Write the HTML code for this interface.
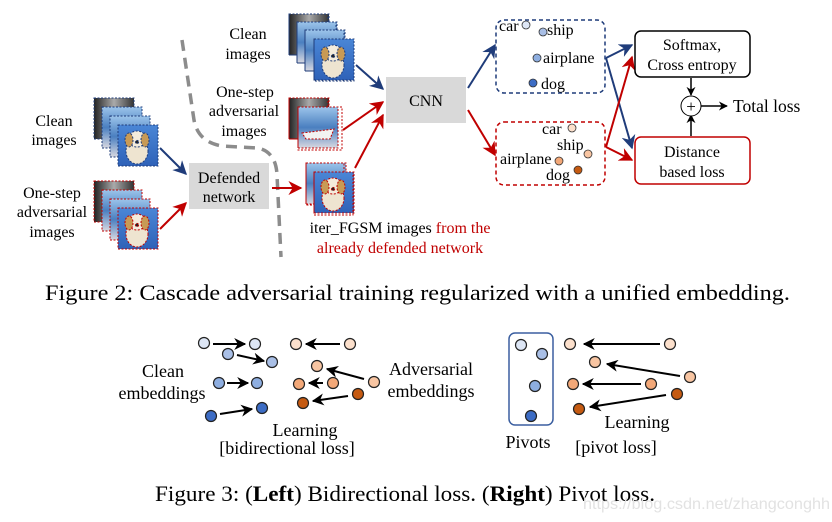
<!DOCTYPE html>
<html><head><meta charset="utf-8"><style>
html,body{margin:0;padding:0;background:#fff;}
svg{display:block;font-family:"Liberation Serif",serif;}
</style></head><body>
<svg width="832" height="522" viewBox="0 0 832 522" xmlns="http://www.w3.org/2000/svg">
<defs>
<linearGradient id="sky" x1="0" y1="0" x2="0" y2="1"><stop offset="0" stop-color="#4a86d6"/><stop offset="1" stop-color="#2f62b8"/></linearGradient>
<linearGradient id="dark" x1="0" y1="0" x2="1" y2="0"><stop offset="0" stop-color="#222"/><stop offset="0.5" stop-color="#aaa"/><stop offset="1" stop-color="#333"/></linearGradient>
<linearGradient id="sea" x1="0" y1="0" x2="0" y2="1"><stop offset="0" stop-color="#9cc4ea"/><stop offset="0.5" stop-color="#4a7fc0"/><stop offset="1" stop-color="#d8d8e0"/></linearGradient>
<g id="dog"><rect x="0" y="0" width="40" height="41" fill="url(#sky)"/><ellipse cx="19" cy="26" rx="11" ry="13" fill="#eee4d0"/><ellipse cx="19" cy="14" rx="9" ry="8" fill="#f4ecdc"/><ellipse cx="11" cy="15" rx="4" ry="7" fill="#c89a55"/><ellipse cx="27" cy="15" rx="4" ry="7" fill="#c89a55"/><circle cx="19" cy="17" r="1.6" fill="#222"/></g>
<g id="ship"><rect x="0" y="0" width="40" height="41" fill="url(#sea)"/><path d="M4 26 L36 22 L32 32 L8 32Z" fill="#f2f2f2"/></g>
<g id="car"><rect x="0" y="0" width="40" height="41" fill="url(#dark)"/></g>
<g id="sky2"><rect x="0" y="0" width="40" height="41" fill="url(#sea)"/></g>
<marker id="ab" viewBox="0 0 10 10" refX="9" refY="5" markerWidth="7" markerHeight="7" orient="auto"><path d="M0 0 L10 5 L0 10 L3 5Z" fill="#1f3c7a"/></marker>
<marker id="ar" viewBox="0 0 10 10" refX="9" refY="5" markerWidth="7" markerHeight="7" orient="auto"><path d="M0 0 L10 5 L0 10 L3 5Z" fill="#c00000"/></marker>
<marker id="ak" viewBox="0 0 10 10" refX="9" refY="5" markerWidth="6" markerHeight="6" orient="auto"><path d="M0 0 L10 5 L0 10 L3 5Z" fill="#000"/></marker>
</defs>

<g stroke="#1f3c7a" stroke-width="1" stroke-dasharray="2,1.5">
<use href="#car" x="94" y="98"/><rect x="94" y="98" width="40" height="41" fill="none"/>
<use href="#sky2" x="102" y="107"/><rect x="102" y="107" width="40" height="41" fill="none"/>
<use href="#sky2" x="110" y="116"/><rect x="110" y="116" width="40" height="41" fill="none"/>
<use href="#dog" x="118" y="125"/><rect x="118" y="125" width="40" height="41" fill="none"/>
</g>
<g stroke="#c00000" stroke-width="1" stroke-dasharray="2,1.5">
<use href="#car" x="94" y="181"/><rect x="94" y="181" width="40" height="41" fill="none"/>
<use href="#sky2" x="102" y="190"/><rect x="102" y="190" width="40" height="41" fill="none"/>
<use href="#sky2" x="110" y="199"/><rect x="110" y="199" width="40" height="41" fill="none"/>
<use href="#dog" x="118" y="208"/><rect x="118" y="208" width="40" height="41" fill="none"/>
</g>
<g font-size="16" text-anchor="middle">
<text x="54" y="126">Clean</text><text x="54" y="145">images</text>
<text x="52" y="198">One-step</text><text x="52" y="217">adversarial</text><text x="52" y="237">images</text>
</g>
<line x1="160" y1="148" x2="186" y2="174" stroke="#1f3c7a" stroke-width="2" marker-end="url(#ab)"/>
<line x1="160" y1="229" x2="186" y2="203" stroke="#c00000" stroke-width="2" marker-end="url(#ar)"/>
<rect x="189" y="163" width="80" height="46" fill="#d9d9d9"/>
<text x="229" y="183" font-size="16" text-anchor="middle">Defended</text>
<text x="229" y="202" font-size="16" text-anchor="middle">network</text>

<path d="M182 40 L194 120 Q198 142 222 146 L258 148 Q276 152 277 175 L281 257" fill="none" stroke="#8c8c8c" stroke-width="3.5" stroke-dasharray="11,7"/>
<line x1="272" y1="188" x2="301" y2="188" stroke="#c00000" stroke-width="2" marker-end="url(#ar)"/>

<g stroke="#1f3c7a" stroke-width="1" stroke-dasharray="2,1.5">
<use href="#car" x="289" y="14"/><rect x="289" y="14" width="39" height="41" fill="none"/>
<use href="#sky2" x="297" y="22"/><rect x="297" y="22" width="39" height="41" fill="none"/>
<use href="#sky2" x="305" y="30"/><rect x="305" y="30" width="39" height="41" fill="none"/>
<use href="#dog" x="314" y="39"/><rect x="314" y="39" width="40" height="42" fill="none"/>
</g>
<g stroke="#c00000" stroke-width="1" stroke-dasharray="2,1.5">
<use href="#car" x="289" y="98"/><rect x="289" y="98" width="39" height="41" fill="none"/>
<use href="#ship" x="298" y="107"/><rect x="298" y="107" width="44" height="43" fill="none"/>
<use href="#sky2" x="306" y="163"/><rect x="306" y="163" width="38" height="42" fill="none"/>
<use href="#dog" x="314" y="172"/><rect x="314" y="172" width="39" height="43" fill="none"/>
</g>
<g font-size="16" text-anchor="middle">
<text x="248" y="39">Clean</text><text x="248" y="59">images</text>
<text x="245" y="97">One-step</text><text x="244" y="116">adversarial</text><text x="244" y="136">images</text>
</g>
<text x="400" y="233" font-size="16" text-anchor="middle">iter_FGSM images <tspan fill="#c00000">from the</tspan></text>
<text x="400" y="253" font-size="16" text-anchor="middle" fill="#c00000">already defended network</text>

<line x1="356" y1="65" x2="383" y2="89" stroke="#1f3c7a" stroke-width="2" marker-end="url(#ab)"/>
<line x1="343" y1="130" x2="383" y2="102" stroke="#c00000" stroke-width="2" marker-end="url(#ar)"/>
<line x1="355" y1="168" x2="383" y2="115" stroke="#c00000" stroke-width="2" marker-end="url(#ar)"/>
<rect x="386" y="77" width="80" height="46" fill="#d9d9d9"/>
<text x="426" y="106" font-size="16" text-anchor="middle">CNN</text>
<line x1="468" y1="88" x2="495" y2="45" stroke="#1f3c7a" stroke-width="2" marker-end="url(#ab)"/>
<line x1="468" y1="110" x2="495" y2="155" stroke="#c00000" stroke-width="2" marker-end="url(#ar)"/>

<rect x="496" y="20" width="109" height="73" rx="8" fill="none" stroke="#1f3c7a" stroke-width="1.5" stroke-dasharray="4,3"/>
<rect x="496" y="122" width="109" height="63" rx="8" fill="none" stroke="#c00000" stroke-width="1.5" stroke-dasharray="4,3"/>
<g font-size="16" stroke="#333" stroke-width="0.8">
<text x="499" y="31" stroke="none">car</text><circle cx="526" cy="25" r="4" fill="#dde6f5"/>
<circle cx="543" cy="32" r="4" fill="#a9bfe6"/><text x="547" y="35" stroke="none">ship</text>
<circle cx="537" cy="58" r="4" fill="#8eaee0"/><text x="543" y="63" stroke="none">airplane</text>
<circle cx="533" cy="83" r="4" fill="#3c6cc4"/><text x="541" y="89" stroke="none">dog</text>
<text x="542" y="134" stroke="none">car</text><circle cx="572" cy="128" r="4" fill="#fce0cc"/>
<text x="557" y="150" stroke="none">ship</text><circle cx="588" cy="154" r="4" fill="#f8c5a2"/>
<text x="500" y="164" stroke="none">airplane</text><circle cx="559" cy="161" r="4" fill="#f3a878"/>
<text x="546" y="180" stroke="none">dog</text><circle cx="578" cy="170" r="4" fill="#c55a11"/>
</g>
<line x1="606" y1="58" x2="632" y2="45" stroke="#1f3c7a" stroke-width="2" marker-end="url(#ab)"/>
<line x1="606" y1="58" x2="632" y2="148" stroke="#1f3c7a" stroke-width="2" marker-end="url(#ab)"/>
<line x1="606" y1="147" x2="632" y2="57" stroke="#c00000" stroke-width="2" marker-end="url(#ar)"/>
<line x1="606" y1="147" x2="632" y2="160" stroke="#c00000" stroke-width="2" marker-end="url(#ar)"/>
<rect x="635" y="31" width="115" height="46" rx="6" fill="#fff" stroke="#000" stroke-width="1.5"/>
<text x="692" y="50" font-size="16" text-anchor="middle">Softmax,</text>
<text x="692" y="70" font-size="16" text-anchor="middle">Cross entropy</text>
<rect x="635" y="137" width="115" height="47" rx="6" fill="#fff" stroke="#c00000" stroke-width="1.5"/>
<text x="692" y="157" font-size="16" text-anchor="middle">Distance</text>
<text x="692" y="177" font-size="16" text-anchor="middle">based loss</text>
<line x1="691" y1="78" x2="691" y2="95" stroke="#000" stroke-width="1.5" marker-end="url(#ak)"/>
<line x1="691" y1="136" x2="691" y2="115" stroke="#000" stroke-width="1.5" marker-end="url(#ak)"/>
<circle cx="691" cy="106" r="10" fill="#fff" stroke="#000" stroke-width="1"/>
<text x="691" y="112" font-size="17" text-anchor="middle">+</text>
<line x1="701" y1="106" x2="727" y2="106" stroke="#000" stroke-width="1.5" marker-end="url(#ak)"/>
<text x="733" y="112" font-size="17.5">Total loss</text>

<text x="45" y="300" font-size="22" textLength="745" lengthAdjust="spacingAndGlyphs">Figure 2: Cascade adversarial training regularized with a unified embedding.</text>

<g stroke="#000" stroke-width="2">
<line x1="213" y1="344" x2="245" y2="344" marker-end="url(#ak)"/>
<line x1="237" y1="355" x2="264" y2="361" marker-end="url(#ak)"/>
<line x1="227" y1="383" x2="248" y2="383" marker-end="url(#ak)"/>
<line x1="220" y1="414" x2="252" y2="409" marker-end="url(#ak)"/>
<line x1="340" y1="344" x2="306" y2="344" marker-end="url(#ak)"/>
<line x1="364" y1="379" x2="327" y2="369" marker-end="url(#ak)"/>
<line x1="323" y1="383" x2="309" y2="383" marker-end="url(#ak)"/>
<line x1="348" y1="396" x2="313" y2="401" marker-end="url(#ak)"/>
</g>
<g stroke="#222" stroke-width="1.2">
<circle cx="204" cy="343" r="5.5" fill="#dde6f5"/><circle cx="255" cy="344" r="5.5" fill="#dde6f5"/>
<circle cx="228" cy="354" r="5.5" fill="#a9bfe6"/><circle cx="272" cy="362" r="5.5" fill="#a9bfe6"/>
<circle cx="219" cy="383" r="5.5" fill="#8eaee0"/><circle cx="257" cy="383" r="5.5" fill="#8eaee0"/>
<circle cx="211" cy="416" r="5.5" fill="#3c6cc4"/><circle cx="262" cy="408" r="5.5" fill="#3c6cc4"/>
<circle cx="296" cy="344" r="5.5" fill="#fce0cc"/><circle cx="350" cy="344" r="5.5" fill="#fce0cc"/>
<circle cx="317" cy="366" r="5.5" fill="#f8c5a2"/><circle cx="374" cy="382" r="5.5" fill="#f8c5a2"/>
<circle cx="299" cy="384" r="5.5" fill="#f3a878"/><circle cx="333" cy="383" r="5.5" fill="#f3a878"/>
<circle cx="303" cy="403" r="5.5" fill="#c55a11"/><circle cx="358" cy="394" r="5.5" fill="#c55a11"/>
</g>
<g font-size="18" text-anchor="middle">
<text x="163" y="377">Clean</text><text x="162" y="399">embeddings</text>
<text x="431" y="375">Adversarial</text><text x="431" y="397">embeddings</text>
<text x="305" y="436">Learning</text><text x="287" y="454">[bidirectional loss]</text>
<text x="528" y="448">Pivots</text><text x="637" y="428">Learning</text><text x="616" y="453">[pivot loss]</text>
</g>
<rect x="509" y="333" width="44" height="92" rx="6" fill="none" stroke="#3b5fa0" stroke-width="1.5"/>
<g stroke="#000" stroke-width="2">
<line x1="660" y1="344" x2="584" y2="344" marker-end="url(#ak)"/>
<line x1="680" y1="376" x2="607" y2="364" marker-end="url(#ak)"/>
<line x1="641" y1="384" x2="583" y2="384" marker-end="url(#ak)"/>
<line x1="666" y1="395" x2="590" y2="407" marker-end="url(#ak)"/>
</g>
<g stroke="#222" stroke-width="1.2">
<circle cx="521" cy="345" r="5.5" fill="#dde6f5"/><circle cx="542" cy="354" r="5.5" fill="#a9bfe6"/>
<circle cx="535" cy="386" r="5.5" fill="#8eaee0"/><circle cx="531" cy="416" r="5.5" fill="#3c6cc4"/>
<circle cx="570" cy="344" r="5.5" fill="#fce0cc"/><circle cx="670" cy="344" r="5.5" fill="#fce0cc"/>
<circle cx="595" cy="362" r="5.5" fill="#f8c5a2"/><circle cx="690" cy="377" r="5.5" fill="#f8c5a2"/>
<circle cx="573" cy="384" r="5.5" fill="#f3a878"/><circle cx="651" cy="384" r="5.5" fill="#f3a878"/>
<circle cx="579" cy="409" r="5.5" fill="#c55a11"/><circle cx="677" cy="394" r="5.5" fill="#c55a11"/>
</g>

<text x="155" y="501" font-size="22" textLength="500" lengthAdjust="spacingAndGlyphs">Figure 3: (<tspan font-weight="bold">Left</tspan>) Bidirectional loss. (<tspan font-weight="bold">Right</tspan>) Pivot loss.</text>
<text x="583" y="509" font-family="Liberation Sans, sans-serif" font-size="16" fill="#e2e2e2" textLength="247" lengthAdjust="spacingAndGlyphs">https://blog.csdn.net/zhangconghh</text>
</svg>
</body></html>
